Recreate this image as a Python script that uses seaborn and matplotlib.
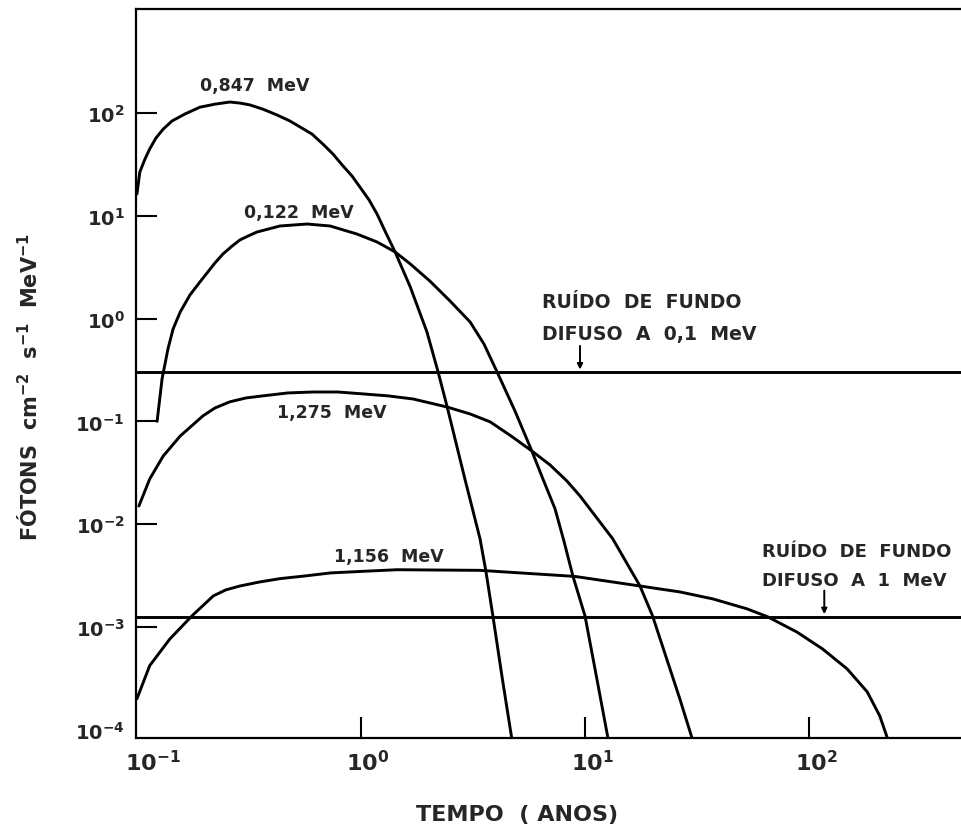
import numpy as np
import pandas as pd
import seaborn as sns
import matplotlib
matplotlib.use("Agg")
import matplotlib.pyplot as plt
from matplotlib import ticker as mticker
from matplotlib import transforms as mtrans

# valores (tempo em anos, fotons cm-2 s-1 MeV-1)
t_0847 = [0.1, 0.1016, 0.103, 0.1086, 0.114, 0.1216, 0.131, 0.1433, 0.164, 0.191, 0.223, 0.26, 0.288,
          0.319, 0.365, 0.422, 0.482, 0.535, 0.604, 0.676, 0.75, 0.832, 0.912, 0.99, 1.086, 1.18, 1.28,
          1.42, 1.66, 1.97, 2.21, 2.42, 2.91, 3.40, 3.61, 3.88, 4.26, 4.72]
f_0847 = [16.3, 21.3, 26.7, 35.7, 44.7, 57.2, 69.8, 83.6, 98, 114, 122, 128, 125,
          120, 109, 95.7, 83.6, 73.1, 62.5, 49.9, 39.9, 30.5, 24.4, 19.0, 14.3, 10.4, 7.11,
          4.45, 2.03, 0.741, 0.302, 0.141, 0.0275, 7.2e-3, 3.5e-3, 1.28e-3, 3.3e-4, 8e-5]

t_0122 = [0.123, 0.1294, 0.1375, 0.145, 0.156, 0.1725, 0.191, 0.223, 0.242, 0.266, 0.288, 0.313, 0.343,
          0.435, 0.574, 0.728, 0.959, 1.18, 1.42, 1.66, 2.03, 2.50, 3.07, 3.54, 4.05, 4.87, 5.79, 6.49,
          7.35, 8.05, 8.83, 10.0, 11.3, 12.7]
f_0122 = [0.1, 0.258, 0.506, 0.793, 1.16, 1.70, 2.27, 3.48, 4.25, 5.08, 5.82, 6.35, 6.95,
          7.96, 8.32, 7.96, 6.65, 5.56, 4.45, 3.40, 2.32, 1.48, 0.927, 0.566, 0.303, 0.126, 0.0515, 0.0275,
          0.0141, 6.87e-3, 3.13e-3, 1.28e-3, 3.12e-4, 8e-5]

t_1275 = [0.102, 0.114, 0.131, 0.156, 0.197, 0.223, 0.26, 0.307, 0.365, 0.472, 0.61, 0.789, 1.02, 1.32,
          1.71, 2.42, 3.07, 3.77, 4.68, 5.79, 6.98, 8.3, 9.5, 13.3, 17.6, 20.0, 26.5, 30.2]
f_1275 = [0.015, 0.0275, 0.046, 0.072, 0.113, 0.135, 0.155, 0.169, 0.177, 0.189, 0.193, 0.193, 0.185, 0.177,
          0.165, 0.138, 0.118, 0.099, 0.072, 0.0515, 0.0377, 0.0263, 0.0188, 0.0072, 0.0025, 0.00129, 0.0002, 8e-5]

t_1156 = [0.1, 0.114, 0.14, 0.176, 0.219, 0.249, 0.288, 0.354, 0.436, 0.562, 0.73, 1.01, 1.45, 3.4,
          9.0, 17.6, 26.5, 37.3, 52.8, 65.6, 88.4, 115, 148, 182, 207, 225]
f_1156 = [2.0e-4, 4.2e-4, 7.6e-4, 1.28e-3, 2.0e-3, 2.29e-3, 2.5e-3, 2.74e-3, 2.95e-3, 3.13e-3, 3.35e-3, 3.47e-3,
          3.6e-3, 3.55e-3, 3.1e-3, 2.5e-3, 2.19e-3, 1.87e-3, 1.5e-3, 1.25e-3, 8.9e-4, 6.1e-4, 3.9e-4, 2.33e-4,
          1.36e-4, 8e-5]

energias = ['0,847 MeV', '0,122 MeV', '1,275 MeV', '1,156 MeV']
fundo_01 = 0.3      # ruido de fundo difuso a 0,1 MeV
fundo_1 = 1.25e-3   # ruido de fundo difuso a 1 MeV

xticks = [0.1, 1, 10, 100]
yticks = [1e-4, 1e-3, 1e-2, 1e-1, 1e0, 1e1, 1e2]

df = pd.concat([
    pd.DataFrame({'tempo': t, 'fluxo': f, 'energia': e})
    for t, f, e in zip([t_0847, t_0122, t_1275, t_1156],
                       [f_0847, f_0122, f_1275, f_1156], energias)
], ignore_index=True)

sns.set_style('ticks')
plt.rcParams['font.family'] = ['DejaVu Sans']
plt.rcParams['mathtext.default'] = 'bf'

fig = plt.figure(figsize=(9.61, 8.28), dpi=100)
ax = fig.add_axes([0.1415, 0.1075, 0.8585, 0.8805])

sns.lineplot(data=df, x='tempo', y='fluxo', hue='energia', palette={e: 'black' for e in energias},
             estimator=None, sort=False, linewidth=2.1, legend=False, ax=ax)

ax.axhline(fundo_01, color='black', lw=2.1)
ax.axhline(fundo_1, color='black', lw=2.1)

ax.set_xscale('log')
ax.set_yscale('log')
ax.set_xlim(0.099, 477)
ax.set_ylim(8.3e-5, 1030)

ax.set_xticks(xticks)
ax.set_xticklabels([r'$10^{%d}$' % np.log10(v) for v in xticks])
ax.set_yticks(yticks)
ax.set_yticklabels([r'$10^{%d}$' % np.log10(v) for v in yticks])
ax.xaxis.set_minor_locator(mticker.NullLocator())
ax.yaxis.set_minor_locator(mticker.NullLocator())
ax.tick_params(axis='both', direction='in', length=15, width=1.5, pad=8, color='black')
ax.tick_params(axis='x', labelsize=16)
ax.tick_params(axis='y', labelsize=14)
ax.yaxis.get_major_ticks()[0].tick1line.set_visible(False)
ax.xaxis.get_major_ticks()[0].tick1line.set_visible(False)

# rotulos do eixo x ficam um pouco a direita dos tracos
for i, lab in enumerate(ax.get_xticklabels()):
    dx = 16 if i == 0 else 7
    lab.set_transform(lab.get_transform() + mtrans.ScaledTranslation(dx / 100, 0, fig.dpi_scale_trans))

for s in ['left', 'top', 'bottom']:
    ax.spines[s].set_linewidth(1.6)
    ax.spines[s].set_color('black')
ax.spines['right'].set_visible(False)

ax.set_xlabel('TEMPO  ( ANOS)', fontsize=16, fontweight='bold')
ax.xaxis.set_label_coords(0.462, -0.09)
ax.set_ylabel('FÓTONS  cm$^{-2}$  s$^{-1}$  MeV$^{-1}$', fontsize=15, fontweight='bold')
ax.yaxis.set_label_coords(-0.114, 0.483)

# rotulos das curvas
lbl = dict(fontsize=12.5, fontweight='bold', ha='center', va='center')
ax.text(0.336, 187, '0,847  MeV', **lbl)
ax.text(0.528, 10.9, '0,122  MeV', **lbl)
ax.text(0.743, 0.123, '1,275  MeV', **lbl)
ax.text(1.33, 4.9e-3, '1,156  MeV', **lbl)

ax.text(6.43, 1.45, 'RUÍDO  DE  FUNDO', fontsize=13.6, fontweight='bold', ha='left', va='center')
ax.text(6.43, 0.708, 'DIFUSO  A  0,1  MeV', fontsize=13.6, fontweight='bold', ha='left', va='center')
ax.text(61.6, 5.48e-3, 'RUÍDO  DE  FUNDO', fontsize=13, fontweight='bold', ha='left', va='center')
ax.text(61.6, 2.86e-3, 'DIFUSO  A  1  MeV', fontsize=13, fontweight='bold', ha='left', va='center')

arr = dict(arrowstyle='-|>', color='black', lw=1.4, mutation_scale=8)
ax.annotate('', xy=(9.5, fundo_01), xytext=(0, 21), textcoords='offset points', arrowprops=arr)
ax.annotate('', xy=(117, fundo_1), xytext=(0, 21), textcoords='offset points', arrowprops=arr)

fig.savefig('out.png', dpi=100)
